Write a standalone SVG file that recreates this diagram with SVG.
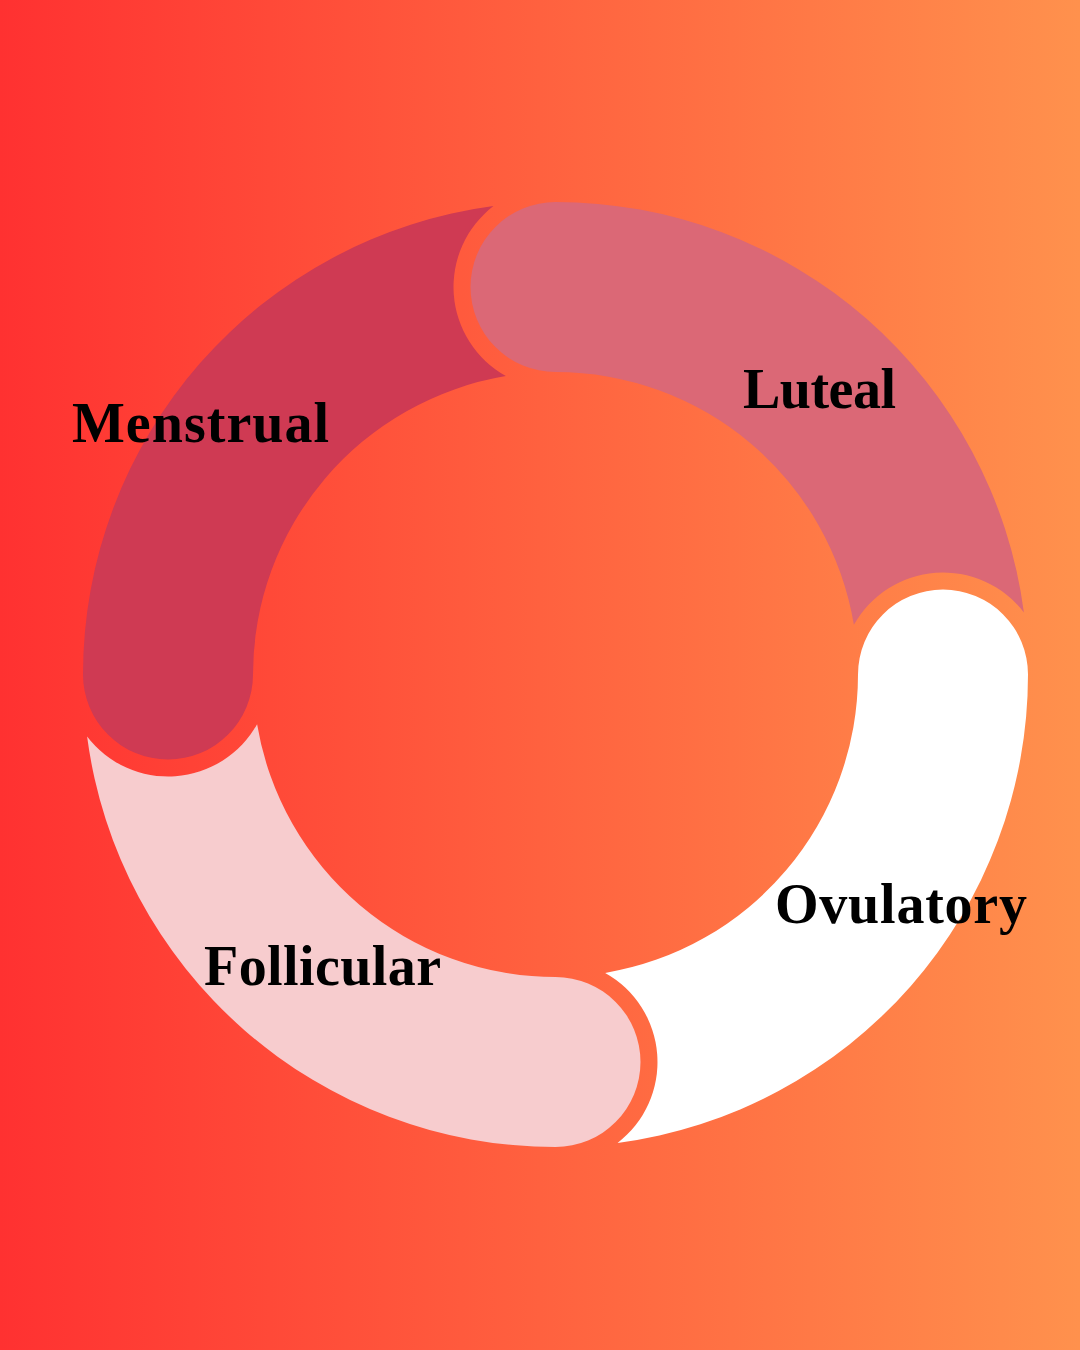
<svg xmlns="http://www.w3.org/2000/svg" width="1080" height="1350" viewBox="0 0 1080 1350">
  <defs>
    <linearGradient id="bg" x1="0" y1="0" x2="1080" y2="0" gradientUnits="userSpaceOnUse">
      <stop offset="0" stop-color="#FF3131"/>
      <stop offset="1" stop-color="#FF914D"/>
    </linearGradient>
  </defs>
  <style>
    .label { font-family: "Liberation Serif", "Times New Roman", serif; font-weight: bold; font-size: 56px; fill: #000000; }
  </style>
  <rect id="background" x="0" y="0" width="1080" height="1350" fill="url(#bg)"/>
  <g id="connectors"/>
  <g id="menstrual">
    <path fill="#CF3A53" d="M 83 674.5 A 472.5 472.5 0 0 1 493.42 206.10 A 102 102 0 0 0 505.83 376.10 A 302.5 302.5 0 0 0 253 674.5 A 85 85 0 0 1 83 674.5 Z"/>
    <text class="label" x="72" y="442" textLength="257">Menstrual</text>
  </g>
  <g id="luteal">
    <path fill="#DB6876" d="M 555.5 202 A 472.5 472.5 0 0 1 1023.90 612.42 A 102 102 0 0 0 853.90 624.83 A 302.5 302.5 0 0 0 555.5 372 A 85 85 0 0 1 555.5 202 Z"/>
    <text class="label" x="743" y="408" textLength="153">Luteal</text>
  </g>
  <g id="ovulatory">
    <path fill="#FFFFFF" d="M 1028 674.5 A 472.5 472.5 0 0 1 617.58 1142.90 A 102 102 0 0 0 605.17 972.90 A 302.5 302.5 0 0 0 858 674.5 A 85 85 0 0 1 1028 674.5 Z"/>
    <text class="label" x="775" y="923" textLength="252">Ovulatory</text>
  </g>
  <g id="follicular">
    <path fill="#F7CCCE" d="M 555.5 1147 A 472.5 472.5 0 0 1 87.10 736.58 A 102 102 0 0 0 257.10 724.17 A 302.5 302.5 0 0 0 555.5 977 A 85 85 0 0 1 555.5 1147 Z"/>
    <text class="label" x="204" y="985" textLength="237">Follicular</text>
  </g>
</svg>
